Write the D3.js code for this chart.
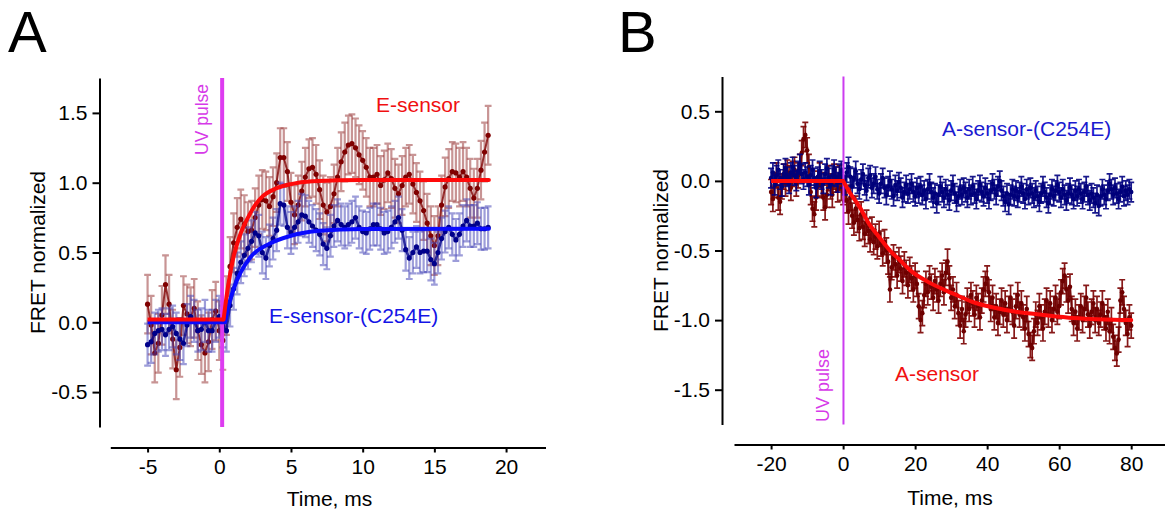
<!DOCTYPE html>
<html>
<head>
<meta charset="utf-8">
<script src="https://cdn.jsdelivr.net/npm/d3@7"></script>
<style>
body { margin: 0; background: #fff; }
svg { font-family: "Liberation Sans", Arial, sans-serif; }
.axis path, .axis line { stroke: #000; stroke-width: 2; }
.axis text { font-family: "Liberation Sans", Arial, sans-serif; font-size: 21px; fill: #000; }
</style>
</head>
<body>
<svg width="1165" height="513"></svg>
<script>
// ---- panel A: E-sensor, sampled every 0.25 ms from -5 ms
var A_T0 = -5, A_DT = 0.25;
var eSensor = [
    0.13, -0.02, -0.22, -0.15, 0.05, 0.27, 0.13, -0.12, -0.34, -0.18,
    0.12, 0.06, 0.04, 0.10, -0.06, -0.16, -0.22, -0.14, 0.02, 0.08,
    -0.06, -0.13, 0.12, 0.40, 0.57, 0.68, 0.74, 0.70, 0.65, 0.66,
    0.75, 0.84, 0.88, 0.87, 0.83, 0.90, 1.00, 1.18, 1.18, 1.08,
    0.86, 0.77, 0.84, 0.94, 1.04, 1.10, 1.11, 1.06, 0.95, 0.84,
    0.79, 0.83, 0.92, 1.04, 1.15, 1.22, 1.27, 1.28, 1.25, 1.20,
    1.16, 1.11, 1.04, 1.04, 1.06, 0.98, 1.02, 1.07, 1.03, 0.96,
    0.92, 0.98, 1.04, 1.06, 0.99, 0.93, 0.87, 0.80, 0.71, 0.62,
    0.55, 0.62, 0.84, 0.97, 1.03, 1.08, 1.07, 1.04, 1.08, 1.04,
    0.96, 0.89, 0.96, 1.09, 1.22, 1.34
];
var eSensorC254E = [
    -0.16, -0.14, -0.08, -0.06, -0.05, -0.09, -0.05, -0.03, -0.08, -0.12,
    -0.15, -0.02, 0.04, 0.01, -0.06, -0.05, 0.01, -0.06, -0.06, 0.01,
    0.04, -0.03, -0.06, 0.12, 0.24, 0.35, 0.43, 0.48, 0.53, 0.58,
    0.64, 0.62, 0.50, 0.46, 0.55, 0.60, 0.66, 0.85, 0.84, 0.68,
    0.64, 0.68, 0.72, 0.77, 0.76, 0.72, 0.69, 0.66, 0.63, 0.56,
    0.53, 0.62, 0.69, 0.73, 0.70, 0.68, 0.70, 0.72, 0.75, 0.68,
    0.65, 0.64, 0.67, 0.70, 0.70, 0.67, 0.64, 0.65, 0.68, 0.72,
    0.75, 0.66, 0.52, 0.46, 0.50, 0.54, 0.50, 0.51, 0.51, 0.45,
    0.42, 0.50, 0.60, 0.65, 0.68, 0.63, 0.59, 0.63, 0.69, 0.73,
    0.69, 0.69, 0.71, 0.67, 0.67, 0.68
];
var errE = 0.21, errEC = 0.15;

// fitted curves of panel A
var fitEt = [-5, 0.3, 0.5, 1, 1.5, 2, 2.5, 3, 4, 5, 6.5, 10, 18.8];
var fitEv = [0.02, 0.02, 0.18, 0.47, 0.64, 0.75, 0.84, 0.90, 0.96, 0.99, 1.01, 1.02, 1.02];
var fitECt = [-5, 0.4, 0.6, 1, 1.5, 2.2, 3.45, 5, 7, 10, 18.8];
var fitECv = [0.0, 0.0, 0.1, 0.24, 0.36, 0.47, 0.56, 0.62, 0.655, 0.668, 0.67];
var uvA = 0.2;

// ---- panel B: A-sensor, sampled every 0.5 ms from -20 ms
var B_T0 = -20, B_DT = 0.5;
var aSensor = [
    -0.08, -0.13, -0.03, 0.04, -0.12, -0.15, -0.04, 0.03, -0.02, 0.06,
    0.02, -0.05, 0.05, 0.08, -0.02, 0.04, 0.10, 0.20, 0.30, 0.33,
    0.22, 0.10, -0.08, -0.20, -0.24, -0.12, -0.02, 0.04, -0.03, -0.12,
    -0.19, -0.10, 0.02, -0.04, -0.10, 0.03, 0.01, -0.06, 0.02, -0.05,
    -0.08, -0.06, -0.14, -0.22, -0.12, -0.25, -0.30, -0.20, -0.28, -0.34,
    -0.24, -0.33, -0.38, -0.30, -0.36, -0.42, -0.35, -0.44, -0.40, -0.47,
    -0.38, -0.45, -0.52, -0.44, -0.50, -0.58, -0.78, -0.62, -0.55, -0.60,
    -0.68, -0.57, -0.63, -0.72, -0.60, -0.66, -0.75, -0.64, -0.70, -0.78,
    -0.68, -0.74, -0.90, -1.00, -0.95, -0.82, -0.74, -0.80, -0.70, -0.76,
    -0.84, -0.72, -0.78, -0.86, -0.74, -0.68, -0.80, -0.66, -0.58, -0.70,
    -0.84, -0.78, -0.90, -0.82, -0.95, -1.04, -0.92, -1.08, -0.96, -0.86,
    -0.92, -0.82, -0.88, -0.96, -0.84, -0.90, -0.98, -0.86, -0.78, -0.74,
    -0.70, -0.80, -0.92, -0.84, -0.98, -0.90, -1.02, -0.94, -0.86, -0.96,
    -0.88, -1.00, -0.92, -0.84, -0.94, -1.04, -0.90, -0.82, -0.96, -0.88,
    -0.98, -1.06, -0.92, -1.10, -1.18, -1.20, -1.08, -0.96, -1.02, -0.90,
    -0.98, -1.06, -0.94, -0.86, -0.96, -0.88, -1.00, -0.92, -0.84, -0.94,
    -0.90, -0.80, -0.72, -0.68, -0.78, -0.86, -0.76, -0.92, -1.02, -0.94,
    -1.06, -0.98, -0.90, -1.00, -0.92, -0.84, -0.96, -1.04, -0.94, -0.88,
    -1.00, -0.92, -1.02, -0.96, -0.88, -0.98, -1.06, -0.94, -1.08, -1.00,
    -1.12, -1.20, -1.24, -1.14, -0.86, -0.80, -0.92, -1.02, -1.10, -0.98,
    -1.04
];
var aSensorC254E = [
    0.02, 0.06, -0.03, 0.04, 0.08, 0.01, -0.04, 0.05, 0.09, 0.03,
    -0.02, 0.06, 0.10, 0.04, 0.00, 0.07, 0.12, 0.05, 0.01, 0.06,
    0.03, -0.03, 0.04, 0.08, 0.02, -0.05, 0.03, 0.07, 0.01, -0.02,
    0.05, 0.09, 0.02, -0.03, 0.04, 0.08, 0.03, -0.01, 0.05, 0.07,
    0.02, -0.03, 0.06, 0.10, 0.03, -0.04, 0.02, 0.07, -0.02, -0.06,
    0.01, 0.05, -0.03, -0.07, 0.02, 0.04, -0.05, -0.02, 0.03, -0.06,
    -0.09, -0.02, 0.02, -0.05, -0.10, -0.04, 0.00, -0.06, -0.11, -0.03,
    -0.07, -0.01, -0.05, -0.12, -0.08, -0.03, -0.09, -0.06, -0.02, -0.08,
    -0.11, -0.05, -0.09, -0.04, -0.10, -0.07, -0.13, -0.06, -0.02, -0.08,
    -0.12, -0.09, -0.16, -0.10, -0.04, -0.08, -0.12, -0.06, -0.10, -0.14,
    -0.07, -0.03, -0.09, -0.15, -0.11, -0.06, -0.10, -0.05, -0.08, -0.12,
    -0.06, -0.10, -0.04, -0.09, -0.13, -0.07, -0.03, -0.08, -0.11, -0.05,
    -0.09, -0.13, -0.07, -0.02, -0.06, -0.10, -0.04, 0.00, -0.07, -0.11,
    -0.15, -0.09, -0.17, -0.10, -0.06, -0.11, -0.07, -0.12, -0.08, -0.04,
    -0.09, -0.13, -0.06, -0.10, -0.05, -0.09, -0.12, -0.07, -0.11, -0.15,
    -0.09, -0.04, -0.08, -0.12, -0.16, -0.10, -0.06, -0.11, -0.07, -0.03,
    -0.08, -0.12, -0.06, -0.10, -0.14, -0.09, -0.05, -0.10, -0.13, -0.07,
    -0.11, -0.06, -0.09, -0.13, -0.08, -0.04, -0.10, -0.14, -0.09, -0.12,
    -0.16, -0.10, -0.18, -0.11, -0.06, -0.10, -0.13, -0.07, -0.02, -0.06,
    -0.10, -0.05, -0.09, -0.13, -0.08, -0.04, -0.11, -0.07, -0.10, -0.06,
    -0.08
];
var errA = 0.09, errAC = 0.07;

// fitted curve of panel B
var fitAt = [-20, 0, 2, 4.67, 7, 10.2, 13, 15.8, 19, 23.2, 30.6, 36, 41.7, 48, 54.7, 64, 80];
var fitAv = [0, 0, -0.09, -0.19, -0.3, -0.41, -0.5, -0.57, -0.65, -0.72, -0.81, -0.87, -0.91, -0.94, -0.96, -0.985, -1.0];
var uvB = 0.1;

var xTicksA = [-5, 0, 5, 10, 15, 20];
var yTicksA = [-0.5, 0, 0.5, 1.0, 1.5];
var xTicksB = [-20, 0, 20, 40, 60, 80];
var yTicksB = [-1.5, -1.0, -0.5, 0, 0.5];

var svg = d3.select('svg');

function drawSeries(g, x, y, t0, dt, values, err, style) {
    var pts = values.map((v, i) => ({ t: t0 + i * dt, v: v }));
    var bars = g.append('g')
        .attr('fill', 'none')
        .attr('stroke', style.bar)
        .attr('stroke-opacity', style.barOpacity)
        .attr('stroke-width', style.barWidth);
    bars.selectAll('.eb').data(pts).join('path')
        .attr('class', 'eb')
        .attr('d', d => {
            var px = x(d.t), top = y(d.v + err), bot = y(d.v - err), c = style.cap;
            return 'M' + px + ',' + top + 'V' + bot +
                'M' + (px - c) + ',' + top + 'H' + (px + c) +
                'M' + (px - c) + ',' + bot + 'H' + (px + c);
        });
    // dense samples merge into a wiggly trace
    g.append('path').datum(pts)
        .attr('d', d3.line().x(d => x(d.t)).y(d => y(d.v)))
        .attr('fill', 'none')
        .attr('stroke', style.dot)
        .attr('stroke-width', style.trace)
        .attr('stroke-opacity', 0.8);
    g.append('g').selectAll('circle').data(pts).join('circle')
        .attr('cx', d => x(d.t))
        .attr('cy', d => y(d.v))
        .attr('r', style.r)
        .style('fill', style.dot);
}

function drawFit(g, x, y, ts, vs, color, width) {
    var pts = ts.map((t, i) => [t, vs[i]]);
    // flat baseline up to the kink, then the smooth exponential part
    var k = 0;
    while (k < pts.length - 1 && pts[k + 1][1] === pts[0][1]) k++;
    var line = d3.line().x(d => x(d[0])).y(d => y(d[1]));
    g.append('path').datum(pts.slice(0, k + 1))
        .attr('d', line)
        .attr('fill', 'none').attr('stroke', color).attr('stroke-width', width);
    g.append('path').datum(pts.slice(k))
        .attr('d', line.curve(d3.curveMonotoneX))
        .attr('fill', 'none').attr('stroke', color).attr('stroke-width', width)
        .attr('stroke-linecap', 'round');
}

function drawAxes(x, y, xTicks, yTicks, xAxisY, yAxisX) {
    svg.append('g')
        .attr('class', 'axis')
        .attr('transform', 'translate(0,' + xAxisY + ')')
        .call(d3.axisBottom(x).tickValues(xTicks).tickFormat(d => String(d))
            .tickSize(5).tickSizeOuter(0).tickPadding(7));
    svg.append('g')
        .attr('class', 'axis')
        .attr('transform', 'translate(' + yAxisX + ',0)')
        .call(d3.axisLeft(y).tickValues(yTicks).tickFormat(d => d.toFixed(1))
            .tickSize(7).tickSizeOuter(0).tickPadding(5));
}

function label(txt, x, y, size, color, anchor, rotate) {
    return svg.append('text')
        .attr('transform', 'translate(' + x + ',' + y + ')' + (rotate ? ' rotate(-90)' : ''))
        .attr('text-anchor', anchor || 'start')
        .style('font-size', size + 'px')
        .style('fill', color)
        .text(txt);
}

// ---- panel A
var xA = d3.scaleLinear().domain([-7.6, 22.75]).range([110.3, 545.5]);
var yA = d3.scaleLinear().domain([-0.75, 1.75]).range([427, 78]);
drawAxes(xA, yA, xTicksA, yTicksA, 447.5, 99.5);

var gA = svg.append('g');
drawSeries(gA, xA, yA, A_T0, A_DT, eSensor, errE,
    { bar: '#9a3c3c', barOpacity: 0.55, barWidth: 2.2, dot: '#800000', r: 2.6, cap: 3.4, trace: 2 });
drawSeries(gA, xA, yA, A_T0, A_DT, eSensorC254E, errEC,
    { bar: '#3c3cb4', barOpacity: 0.5, barWidth: 2.2, dot: '#00008b', r: 2.6, cap: 3.4, trace: 2.5 });
gA.append('line')
    .attr('x1', xA(uvA)).attr('x2', xA(uvA))
    .attr('y1', yA(1.75)).attr('y2', yA(-0.75))
    .attr('stroke', '#dd3cf0').attr('stroke-width', 4);
drawFit(gA, xA, yA, fitECt, fitECv, '#0a0aff', 4);
drawFit(gA, xA, yA, fitEt, fitEv, '#ff0a0a', 4);

label('A', 8, 52, 58, '#000');
label('FRET normalized', 45, 252.5, 21, '#000', 'middle', true);
label('Time, ms', 329.5, 506, 21, '#000', 'middle');
label('UV pulse', 208, 155, 17.5, '#d63ae8', 'start', true);
label('E-sensor', 376, 112, 21, '#f01010');
label('E-sensor-(C254E)', 269, 323, 21, '#1414e6');

// ---- panel B
var xB = d3.scaleLinear().domain([-30.3, 90.5]).range([734, 1169]);
var yB = d3.scaleLinear().domain([-1.75, 0.75]).range([424.5, 76.5]);
drawAxes(xB, yB, xTicksB, yTicksB, 444.5, 722);

var gB = svg.append('g');
drawSeries(gB, xB, yB, B_T0, B_DT, aSensor, errA,
    { bar: '#7a0000', barOpacity: 0.9, barWidth: 1.7, dot: '#6e0000', r: 2.3, cap: 3, trace: 2.2 });
drawSeries(gB, xB, yB, B_T0, B_DT, aSensorC254E, errAC,
    { bar: '#000080', barOpacity: 0.9, barWidth: 1.7, dot: '#00007a', r: 2.3, cap: 3, trace: 2.2 });
gB.append('line')
    .attr('x1', xB(uvB)).attr('x2', xB(uvB))
    .attr('y1', yB(0.75)).attr('y2', yB(-1.75))
    .attr('stroke', '#cc3cf0').attr('stroke-width', 2);
drawFit(gB, xB, yB, fitAt, fitAv, '#ff0a0a', 4);

label('B', 618, 52, 58, '#000');
label('FRET normalized', 668, 250.5, 21, '#000', 'middle', true);
label('Time, ms', 950, 505, 21, '#000', 'middle');
label('UV pulse', 829, 422, 18, '#d63ae8', 'start', true);
label('A-sensor-(C254E)', 942, 136, 21, '#1a1ad0');
label('A-sensor', 895, 381, 21, '#f01010');
</script>
</body>
</html>
